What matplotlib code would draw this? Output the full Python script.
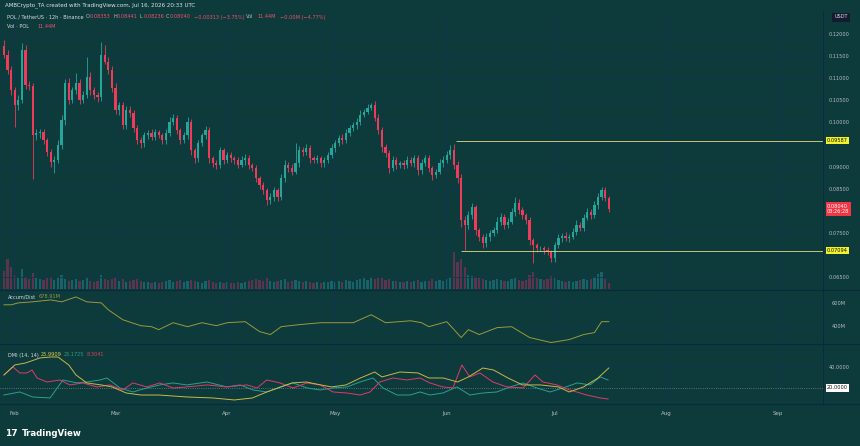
import numpy as np
import matplotlib
matplotlib.use('Agg')
import matplotlib.pyplot as plt

# colours
BG = '#0d3a3a'
GRID = '#123650'
TXT = '#b8bcc6'
UP = '#26a69a'
DN = '#ef3b5a'

# --- data: daily candles from 2026-01-29 ---
base = np.datetime64('2026-01-29')
first_open = 0.1172
closes = [
    0.1153, 0.1119, 0.1073, 0.1039, 0.1051, 0.1164, 0.1085, 0.1082, 0.0971, 0.0975,
    0.0978, 0.0960, 0.0933, 0.0910, 0.0915, 0.0949, 0.1005, 0.1089, 0.1051, 0.1073,
    0.1089, 0.1051, 0.1062, 0.1103, 0.1073, 0.1062, 0.1057, 0.1153, 0.1137, 0.1119,
    0.1078, 0.1028, 0.1039, 0.0994, 0.1028, 0.1021, 0.0987, 0.0960, 0.0953, 0.0971,
    0.0976, 0.0967, 0.0978, 0.0971, 0.0960, 0.0976, 0.1001, 0.1010, 0.0983, 0.0960,
    0.0971, 0.1001, 0.0937, 0.0919, 0.0953, 0.0971, 0.0983, 0.0919, 0.0908, 0.0904,
    0.0937, 0.0915, 0.0926, 0.0919, 0.0915, 0.0904, 0.0915, 0.0919, 0.0904, 0.0897,
    0.0874, 0.0858, 0.0847, 0.0824, 0.0831, 0.0847, 0.0831, 0.0874, 0.0904, 0.0897,
    0.0888, 0.0908, 0.0937, 0.0933, 0.0942, 0.0919, 0.0915, 0.0919, 0.0908, 0.0915,
    0.0926, 0.0942, 0.0953, 0.0965, 0.0960, 0.0976, 0.0987, 0.0994, 0.1001, 0.1017,
    0.1023, 0.1033, 0.1039, 0.1010, 0.0983, 0.0944, 0.0931, 0.0897, 0.0915, 0.0904,
    0.0908, 0.0904, 0.0915, 0.0908, 0.0919, 0.0892, 0.0908, 0.0919, 0.0897, 0.0881,
    0.0888, 0.0908, 0.0915, 0.0926, 0.0937, 0.0904, 0.0874, 0.0779, 0.0768, 0.0790,
    0.0808, 0.0756, 0.0741, 0.0727, 0.0741, 0.0750, 0.0756, 0.0775, 0.0786, 0.0768,
    0.0775, 0.0797, 0.0818, 0.0802, 0.0790, 0.0779, 0.0734, 0.0722, 0.0716, 0.0716,
    0.0711, 0.0707, 0.0693, 0.0722, 0.0738, 0.0743, 0.0738, 0.0741, 0.0752, 0.0768,
    0.0761, 0.0784, 0.0797, 0.0790, 0.0813, 0.0831, 0.0847, 0.0829, 0.0804,
]
# wick lengths above / below the body, in 1e-4 USDT
wick_up = [
    14, 10, 8, 6, 10, 16, 12, 8, 6, 10,
    8, 6, 5, 6, 8, 10, 12, 10, 12, 8,
    23, 10, 8, 45, 10, 8, 6, 28, 23, 10,
    8, 10, 8, 6, 10, 8, 6, 8, 6, 8,
    6, 8, 6, 5, 6, 8, 10, 8, 6, 5,
    8, 10, 6, 5, 8, 6, 8, 6, 5, 6,
    8, 6, 8, 6, 5, 6, 8, 10, 6, 5,
    6, 5, 6, 5, 8, 6, 5, 8, 10, 6,
    8, 45, 10, 8, 10, 6, 5, 6, 5, 6,
    6, 8, 8, 6, 8, 10, 8, 6, 8, 10,
    8, 8, 5, 10, 8, 6, 8, 6, 8, 6,
    5, 6, 8, 6, 8, 6, 10, 8, 6, 5,
    6, 8, 8, 10, 12, 15, 8, 10, 8, 10,
    10, 6, 5, 6, 8, 6, 8, 10, 8, 6,
    8, 10, 13, 8, 6, 5, 6, 5, 6, 5,
    5, 6, 5, 8, 10, 6, 8, 6, 8, 10,
    6, 8, 10, 6, 8, 10, 7, 6, 5,
]
wick_dn = [
    8, 10, 12, 50, 10, 8, 10, 8, 100, 12,
    10, 8, 10, 12, 25, 8, 10, 12, 10, 8,
    8, 10, 8, 6, 10, 8, 10, 8, 6, 10,
    10, 8, 12, 10, 8, 10, 8, 10, 12, 8,
    8, 6, 8, 6, 10, 8, 6, 8, 10, 8,
    6, 8, 10, 12, 8, 6, 8, 10, 8, 10,
    8, 10, 6, 8, 10, 8, 6, 12, 10, 8,
    10, 8, 10, 11, 8, 10, 8, 6, 8, 10,
    8, 6, 8, 10, 8, 10, 8, 6, 10, 8,
    8, 6, 8, 6, 8, 6, 8, 6, 8, 6,
    6, 5, 6, 8, 10, 12, 10, 12, 8, 10,
    8, 10, 8, 6, 8, 12, 8, 6, 10, 12,
    8, 6, 8, 6, 8, 10, 12, 15, 57, 10,
    8, 12, 10, 12, 8, 10, 8, 6, 8, 10,
    8, 6, 8, 10, 8, 10, 12, 40, 10, 8,
    10, 8, 9, 8, 6, 8, 6, 8, 6, 8,
    6, 8, 6, 8, 6, 8, 6, 8, 6,
]
volumes = [
    18, 30, 22, 14, 12, 20, 12, 10, 16, 12,
    10, 9, 11, 12, 9, 12, 14, 10, 8, 9,
    10, 8, 9, 12, 8, 7, 8, 14, 10, 9,
    10, 12, 8, 10, 7, 8, 9, 10, 8, 7,
    7, 6, 7, 6, 7, 8, 9, 7, 8, 9,
    7, 8, 9, 8, 7, 6, 8, 9, 7, 6,
    7, 6, 7, 6, 6, 7, 6, 7, 8, 9,
    10, 9, 8, 11, 8, 7, 8, 9, 10, 7,
    8, 9, 8, 7, 8, 7, 6, 7, 6, 7,
    7, 8, 7, 8, 7, 9, 8, 7, 9, 10,
    11, 9, 12, 10, 11, 12, 9, 10, 8, 8,
    7, 7, 8, 7, 8, 9, 7, 8, 8, 10,
    8, 9, 8, 10, 12, 37, 27, 30, 22, 14,
    13, 12, 11, 10, 9, 8, 9, 10, 9, 8,
    8, 10, 12, 9, 8, 9, 14, 17, 12, 10,
    9, 10, 13, 11, 9, 8, 7, 8, 7, 8,
    9, 10, 9, 10, 12, 15, 17, 10, 6,
]

level_hi = 0.09587
level_lo = 0.07094
level_hi_from = 125.5
level_lo_from = 127.0

price_ticks = [0.120, 0.115, 0.110, 0.105, 0.100, 0.090, 0.085, 0.075, 0.065]

# Accum/Dist (millions)
ad_day = [0, 2, 4, 8, 13, 16, 20, 23, 27, 29, 33, 38, 41, 43, 47, 51, 55, 59, 62, 67,
          71, 74, 77, 82, 88, 91, 97, 102, 106, 113, 116, 118, 123, 127, 129, 132, 137,
          141, 146, 152, 157, 161, 164, 166, 168]
ad_val = [583, 583, 600, 609, 626, 609, 652, 609, 600, 539, 452, 400, 391, 365, 426, 391,
          426, 400, 426, 435, 348, 322, 391, 409, 426, 426, 426, 496, 426, 443, 426, 391,
          435, 296, 365, 322, 383, 391, 296, 252, 278, 322, 339, 435, 435]

# DMI lines
yel_day = [0, 3, 6, 10, 13, 15, 18, 20, 23, 27, 30, 34, 38, 43, 51, 58, 64, 69, 73, 77,
           80, 84, 88, 91, 95, 99, 103, 105, 110, 115, 118, 122, 126, 129, 133, 136, 140,
           144, 149, 154, 157, 161, 165, 168]
yel_val = [32.4, 41.9, 43.8, 48.6, 49.5, 49.5, 41.9, 32.4, 24.8, 22.9, 21.0, 15.2, 13.3,
           13.3, 11.4, 10.5, 8.6, 10.5, 16.2, 21.0, 24.8, 25.7, 22.9, 21.0, 22.9, 29.5,
           35.2, 30.5, 35.2, 34.3, 29.5, 29.5, 25.7, 30.5, 39.0, 37.1, 29.5, 22.9, 22.9,
           21.0, 16.2, 21.0, 29.5, 39.0]
red_day = [0, 2.5, 4.4, 6.4, 7.8, 9.2, 11.9, 15.6, 18.3, 21.9, 25.8, 29.4, 33, 35.8,
           39.7, 43.3, 46.9, 50.8, 56.4, 61.9, 67.5, 70.3, 73, 76.7, 80.3, 84.2, 87.8,
           91.4, 95.3, 98.9, 101.7, 104.4, 108, 111.9, 115.6, 118.3, 121.9, 124.7, 127.2,
           129.4, 132.2, 135.8, 139.7, 144.2, 147.5, 149.7, 153.6, 157.2, 161.9, 165.6, 167.8]
red_val = [32.4, 40.0, 34.3, 34.3, 37.1, 29.5, 25.7, 27.6, 22.9, 24.8, 21.0, 22.9, 18.1,
           24.8, 21.0, 24.8, 20.0, 21.0, 22.9, 21.0, 22.9, 20.0, 27.6, 24.8, 20.0, 24.8,
           22.9, 16.2, 15.2, 13.3, 16.2, 25.7, 29.5, 27.6, 29.5, 24.8, 21.0, 20.0, 41.9,
           30.5, 34.3, 25.7, 21.0, 20.0, 32.4, 25.7, 22.9, 18.1, 13.3, 10.5, 9.5]
teal_day = [0, 4.4, 8, 12.8, 16.4, 20.3, 23, 26.7, 28.6, 32.2, 35.8, 39.7, 43.3, 46.9,
            50.8, 56.4, 61.9, 65.6, 69.2, 73, 76.7, 80.3, 84.2, 87.8, 91.4, 95.3, 98.9,
            102.5, 105.3, 109.2, 112.8, 115.6, 118.3, 121.9, 125.8, 129.4, 133, 136.9,
            140.6, 144.2, 148, 151.7, 155.3, 159.2, 162.8, 165.6, 167.8]
teal_val = [13.3, 16.2, 11.4, 10.5, 27.6, 24.8, 25.7, 27.6, 29.5, 20.0, 16.2, 20.0, 22.9,
            24.8, 22.9, 25.7, 21.0, 22.9, 18.1, 16.2, 21.0, 24.8, 20.0, 18.1, 20.0, 21.0,
            25.7, 29.5, 20.0, 13.3, 13.3, 16.2, 13.3, 15.2, 21.0, 13.3, 15.2, 16.2, 21.0,
            24.8, 20.0, 16.2, 20.0, 24.8, 22.9, 30.5, 27.6]

month_names = ['Feb', 'Mar', 'Apr', 'May', 'Jun', 'Jul', 'Aug', 'Sep']
month_starts = ['2026-02-01', '2026-03-01', '2026-04-01', '2026-05-01',
                '2026-06-01', '2026-07-01', '2026-08-01', '2026-09-01']

# --- derived ---
closes = np.array(closes)
days = np.arange(len(closes))
opens = np.r_[first_open, closes[:-1]]
highs = np.maximum(opens, closes) + np.array(wick_up) * 1e-4
lows = np.minimum(opens, closes) - np.array(wick_dn) * 1e-4
colors = np.where(closes >= opens, UP, DN)
vol_colors = np.where(closes >= opens, '#1f7f8a', '#93305f')
month_days = (np.array(month_starts, dtype='datetime64[D]') - base).astype(int)
XLIM = (-1.1, 227.5)

W, H = 860, 446
fig = plt.figure(figsize=(8.6, 4.46), dpi=100, facecolor=BG)


def px_axes(x0, y0, x1, y1, **kw):
    return fig.add_axes([x0 / W, 1 - y1 / H, (x1 - x0) / W, (y1 - y0) / H], **kw)


def style(a):
    a.set_facecolor(BG)
    for s in a.spines.values():
        s.set_visible(False)
    a.set_xlim(*XLIM)
    a.set_xticks(month_days)
    a.tick_params(axis='both', length=0, labelsize=3.6, colors=TXT)
    a.yaxis.tick_right()
    a.grid(True, color=GRID, lw=0.6)
    a.set_axisbelow(True)


# volume (behind)
axv = px_axes(0, 12, 823, 289)
axv.set_facecolor(BG)
axv.set_xlim(*XLIM)
axv.bar(days, volumes, width=0.62, color=vol_colors, alpha=0.6, linewidth=0)
axv.set_ylim(0, max(volumes) * 7.4)
axv.axis('off')

# price
ax = px_axes(0, 12, 823, 289)
style(ax)
ax.set_facecolor('none')
ax.set_ylim(0.06228, 0.12498)
ax.set_yticks(price_ticks)
ax.set_yticklabels([f'{t:.5f}' for t in price_ticks])
ax.tick_params(axis='y', pad=4)
ax.set_xticklabels([])
ax.vlines(days, lows, highs, colors=colors, lw=0.6, zorder=3)
ax.bar(days, np.maximum(np.abs(closes - opens), 0.00006), bottom=np.minimum(opens, closes),
       width=0.62, color=colors, linewidth=0, zorder=4)
ax.hlines(level_hi, level_hi_from, XLIM[1], color='#c9c37c', lw=0.7, zorder=5)
ax.hlines(level_lo, level_lo_from, XLIM[1], color='#c9c37c', lw=0.7, zorder=5)
for lv in (level_hi, level_lo):
    ax.annotate(f'{lv:.5f}', xy=(1.005, lv), xycoords=('axes fraction', 'data'),
                ha='left', va='center', fontsize=3.6, color='#111111', annotation_clip=False,
                bbox=dict(boxstyle='square,pad=0.25', fc='#f2f22a', ec='none'))
ax.annotate(f'{closes[-1]:.5f}\n03:26:28', xy=(1.005, closes[-1]), xycoords=('axes fraction', 'data'),
            ha='left', va='center', fontsize=3.6, color='white', annotation_clip=False,
            linespacing=1.1, bbox=dict(boxstyle='square,pad=0.3', fc='#f23645', ec='none'))

# accum/dist
ax_ad = px_axes(0, 291, 823, 343)
style(ax_ad)
ax_ad.set_ylim(248, 704)
ax_ad.set_yticks([400, 600])
ax_ad.set_yticklabels(['400M', '600M'])
ax_ad.tick_params(axis='y', pad=6)
ax_ad.set_xticklabels([])
ax_ad.plot(ad_day, ad_val, color='#9b9a3a', lw=0.7)

# DMI
ax_dmi = px_axes(0, 345, 823, 403)
style(ax_dmi)
ax_dmi.set_ylim(5.7, 60.9)
ax_dmi.set_yticks([40])
ax_dmi.set_yticklabels(['40.0000'])
ax_dmi.tick_params(axis='y', pad=4)
ax_dmi.set_xticklabels(month_names)
ax_dmi.tick_params(axis='x', pad=6, labelsize=4)
ax_dmi.axhline(20, color='#7c8090', lw=0.6, ls=':')
ax_dmi.plot(teal_day, teal_val, color='#2aa08f', lw=0.7)
ax_dmi.plot(red_day, red_val, color='#e03a6a', lw=0.7)
ax_dmi.plot(yel_day, yel_val, color='#c9b84a', lw=0.7)
ax_dmi.annotate('20.0000', xy=(1.005, 20), xycoords=('axes fraction', 'data'),
                ha='left', va='center', fontsize=3.6, color='#111111', annotation_clip=False,
                bbox=dict(boxstyle='square,pad=0.25', fc='white', ec='none'))

# pane separators
for yy in (290, 344, 404):
    fig.add_artist(plt.Line2D([0, 1], [1 - yy / H] * 2, color='#0a2840', lw=0.8))
fig.add_artist(plt.Line2D([823 / W] * 2, [1 - 404 / H, 1 - 12 / H], color='#0a2840', lw=0.6))


def ftext(x, y, s, color=TXT, size=3.6, **kw):
    fig.text(x / W, 1 - y / H, s, color=color, fontsize=size, va='center', ha='left', **kw)


ftext(5, 5, 'AMBCrypto_TA created with TradingView.com, Jul 16, 2026 20:33 UTC', '#e0e3eb', 4)
ftext(7, 17, 'POL / TetherUS · 12h · Binance', '#d8dbe3')
red_txt = '#f0506e'
for x, lab, val in [(86, 'O', '0.08353'), (113, 'H', '0.08441'), (140, 'L', '0.08236'),
                    (166, 'C', '0.08040')]:
    ftext(x, 17, lab)
    ftext(x + 4, 17, val, red_txt)
ftext(194, 17, '−0.00313 (−3.75%)', red_txt)
ftext(246, 17, 'Vol', TXT)
ftext(257, 17, '11.44M', red_txt)
ftext(280, 17, '−0.00M (−4.77%)', red_txt)
ftext(7, 26, 'Vol · POL', '#d8dbe3')
ftext(38, 26, '11.44M', red_txt)
ftext(8, 297, 'Accum/Dist', '#d8dbe3')
ftext(39, 297, '678.91M', '#9b9a3a')
ftext(8, 355, 'DMI (14, 14)', '#d8dbe3')
ftext(41, 355, '25.9909', '#e0d050')
ftext(64, 355, '25.1725', '#2aa08f')
ftext(87, 355, '8.3041', '#e03a6a')
fig.text(841 / W, 1 - 17 / H, 'USDT', color='#d8dbe3', fontsize=3.6, ha='center', va='center',
         bbox=dict(boxstyle='square,pad=0.4', fc='#141a30', ec='none'))
ftext(5, 433, '17', 'white', 6.5, fontweight='bold')
ftext(22, 433, 'TradingView', 'white', 6.2, fontweight='bold')

fig.savefig('out.png', dpi=100, facecolor=BG)
